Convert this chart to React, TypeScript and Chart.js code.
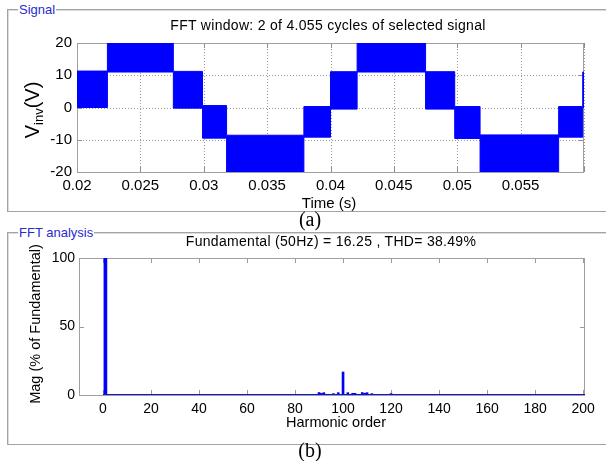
import React, { useEffect, useRef } from 'react';
import { Chart, registerables } from 'chart.js';

Chart.register(...registerables);

const FONT = '"Liberation Sans", Arial, Helvetica, sans-serif';
const SERIF = '"Liberation Serif", "Times New Roman", serif';

// ---- (a) Signal: switching bands (start time of each band, low / high envelope in V)
const bandTimes = [0.02, 0.0224, 0.0276, 0.0299, 0.0318, 0.0379, 0.04, 0.0421, 0.0475, 0.0498, 0.0518, 0.058, 0.0599, 0.06];
const bandLow = [0, 11.0, -0.2, -9.5, -20.2, -9.2, -0.5, 11.0, -0.5, -9.6, -20.2, -9.2, 0];
const bandHigh = [11.3, 20.3, 11.2, 0.6, -8.6, 0.3, 11.1, 20.3, 11.1, 0.3, -8.5, 0.3, 11.0];
const timeTicks = [0.02, 0.025, 0.03, 0.035, 0.04, 0.045, 0.05, 0.055, 0.06];
const timeTickLabels = ['0.02', '0.025', '0.03', '0.035', '0.04', '0.045', '0.05', '0.055', ''];
const voltTicks = [-20, -10, 0, 10, 20];

// ---- (b) FFT analysis
const fundamentalOrder = [1];
const fundamentalMag = [100];
const harmonicOrders = [90, 91, 92, 96, 98, 100, 102, 104, 105, 108, 109, 110, 112, 120];
const harmonicMags = [1.8, 1.2, 1.7, 1.0, 1.7, 16.8, 1.7, 1.2, 1.2, 1.8, 1.3, 1.7, 1.0, 1.0];
const baselineOrders = [0, 200.8];
const baselineMags = [0, 0];
const harmonicTicks = [0, 20, 40, 60, 80, 100, 120, 140, 160, 180, 200];
const magTicks = [0, 50, 100];

const framePlugin = {
  id: 'matlabFrame',
  beforeDatasetsDraw(chart: any, _args: any, opts: any) {
    const { ctx, chartArea: a, scales } = chart;
    const xs = scales.x;
    const ys = scales.y;
    const line = (x1: number, y1: number, x2: number, y2: number) => {
      ctx.beginPath();
      ctx.moveTo(x1, y1);
      ctx.lineTo(x2, y2);
      ctx.stroke();
    };
    ctx.save();
    ctx.lineWidth = 1;
    if (opts.grid) {
      ctx.strokeStyle = '#9a9a9a';
      ctx.setLineDash([1, 2]);
      xs.ticks.forEach((t: any) => {
        const px = Math.round(xs.getPixelForValue(t.value)) + 0.5;
        line(px, a.top, px, a.bottom);
      });
      ys.ticks.forEach((t: any) => {
        const py = Math.round(ys.getPixelForValue(t.value)) + 0.5;
        line(a.left, py, a.right, py);
      });
    }
    ctx.setLineDash([]);
    ctx.strokeStyle = opts.tickColor || '#909090';
    const L = 5;
    xs.ticks.forEach((t: any) => {
      const px = Math.round(xs.getPixelForValue(t.value)) + 0.5;
      line(px, a.bottom, px, a.bottom - L);
      line(px, a.top, px, a.top + L);
    });
    ys.ticks.forEach((t: any) => {
      const py = Math.round(ys.getPixelForValue(t.value)) + 0.5;
      line(a.left, py, a.left + L, py);
      line(a.right, py, a.right - L, py);
    });
    ctx.strokeStyle = opts.boxColor || '#a0a0a0';
    ctx.strokeRect(Math.round(a.left) + 0.5, Math.round(a.top) + 0.5, Math.round(a.right - a.left) - 1, Math.round(a.bottom - a.top));
    ctx.restore();
  },
};

function Txt(props: { x: number; base: number; size: number; family?: string; color?: string; children: any; center?: boolean; spacing?: number }) {
  const { x, base, size, family, color, children, center, spacing } = props;
  return (
    <div
      style={{
        position: 'absolute',
        left: x,
        top: base - 0.8465 * size,
        fontSize: size,
        lineHeight: `${size}px`,
        fontFamily: family || FONT,
        color: color || '#000',
        whiteSpace: 'nowrap',
        letterSpacing: spacing ? `${spacing}px` : undefined,
        transform: center ? 'translateX(-50%)' : undefined,
      }}
    >
      {children}
    </div>
  );
}

function VTxt(props: { cx: number; cy: number; size: number; children: any }) {
  const { cx, cy, size, children } = props;
  return (
    <div
      style={{
        position: 'absolute',
        left: cx,
        top: cy,
        fontSize: size,
        lineHeight: 1,
        fontFamily: FONT,
        color: '#000',
        whiteSpace: 'nowrap',
        transform: 'translate(-50%, -50%) rotate(-90deg)',
      }}
    >
      {children}
    </div>
  );
}

export default function App() {
  const sigRef = useRef<HTMLCanvasElement>(null);
  const fftRef = useRef<HTMLCanvasElement>(null);

  useEffect(() => {
    const lowData = bandTimes.map((t, i) => ({ x: t, y: bandLow[Math.min(i, bandLow.length - 1)] }));
    const highData = bandTimes.map((t, i) => ({ x: t, y: bandHigh[Math.min(i, bandHigh.length - 1)] }));

    const sig = new Chart(sigRef.current as HTMLCanvasElement, {
      type: 'line',
      data: {
        datasets: [
          {
            data: lowData,
            borderColor: '#0000ff',
            borderWidth: 1,
            pointRadius: 0,
            stepped: true,
            fill: false,
          },
          {
            data: highData,
            borderColor: '#0000ff',
            backgroundColor: '#0000ff',
            borderWidth: 1,
            pointRadius: 0,
            stepped: true,
            fill: '-1',
          },
        ],
      },
      options: {
        responsive: false,
        animation: false,
        devicePixelRatio: 1,
        layout: { padding: { left: 0, right: 22, top: 43, bottom: 0 } },
        plugins: {
          legend: { display: false },
          tooltip: { enabled: false },
          matlabFrame: { grid: true, tickColor: '#8c8c8c', boxColor: '#a0a0a0' },
        } as any,
        scales: {
          x: {
            type: 'linear',
            min: 0.02,
            max: 0.06,
            grid: { display: false, drawTicks: false },
            border: { display: false },
            afterBuildTicks: (s: any) => {
              s.ticks = timeTicks.map((v) => ({ value: v }));
            },
            afterFit: (s: any) => {
              s.height = 43;
            },
            ticks: {
              autoSkip: false,
              maxRotation: 0,
              padding: 5,
              color: '#000',
              font: { family: FONT, size: 15 },
              callback: (_v: any, i: number) => timeTickLabels[i],
            },
          },
          y: {
            type: 'linear',
            min: -20,
            max: 20,
            grid: { display: false, drawTicks: false },
            border: { display: false },
            afterBuildTicks: (s: any) => {
              s.ticks = voltTicks.map((v) => ({ value: v }));
            },
            afterFit: (s: any) => {
              s.width = 77;
            },
            ticks: {
              autoSkip: false,
              padding: 5,
              color: '#000',
              font: { family: FONT, size: 15 },
              callback: (v: any) => String(v),
            },
          },
        },
      },
      plugins: [framePlugin as any],
    } as any);

    const fft = new Chart(fftRef.current as HTMLCanvasElement, {
      type: 'bar',
      data: {
        datasets: [
          {
            type: 'line',
            data: baselineOrders.map((h, i) => ({ x: h, y: baselineMags[i] })),
            borderColor: '#1414c8',
            borderWidth: 2,
            pointRadius: 0,
            fill: false,
          },
          {
            type: 'bar',
            data: fundamentalOrder.map((h, i) => ({ x: h, y: fundamentalMag[i] })),
            backgroundColor: '#0000ff',
            barThickness: 3,
            grouped: false,
          },
          {
            type: 'bar',
            data: harmonicOrders.map((h, i) => ({ x: h, y: harmonicMags[i] })),
            backgroundColor: '#0000ff',
            barThickness: 2,
            grouped: false,
          },
        ],
      },
      options: {
        responsive: false,
        animation: false,
        devicePixelRatio: 1,
        layout: { padding: { left: 0, right: 21, top: 26, bottom: 0 } },
        plugins: {
          legend: { display: false },
          tooltip: { enabled: false },
          matlabFrame: { grid: false, tickColor: '#9a9a9a', boxColor: '#a0a0a0' },
        } as any,
        scales: {
          x: {
            type: 'linear',
            min: -10,
            max: 200.8,
            offset: false,
            grid: { display: false, offset: false, drawTicks: false },
            border: { display: false },
            afterBuildTicks: (s: any) => {
              s.ticks = harmonicTicks.map((v) => ({ value: v }));
            },
            afterFit: (s: any) => {
              s.height = 50;
            },
            ticks: {
              autoSkip: false,
              maxRotation: 0,
              padding: 6,
              color: '#000',
              font: { family: FONT, size: 14 },
              callback: (v: any) => String(v),
            },
          },
          y: {
            type: 'linear',
            min: 0,
            max: 100,
            grid: { display: false, drawTicks: false },
            border: { display: false },
            afterBuildTicks: (s: any) => {
              s.ticks = magTicks.map((v) => ({ value: v }));
            },
            afterFit: (s: any) => {
              s.width = 79;
            },
            ticks: {
              autoSkip: false,
              padding: 4,
              color: '#000',
              font: { family: FONT, size: 14 },
              callback: (v: any) => String(v),
            },
          },
        },
      },
      plugins: [framePlugin as any],
    } as any);

    return () => {
      sig.destroy();
      fft.destroy();
    };
  }, []);

  const frame = (top: number, height: number) => ({
    position: 'absolute' as const,
    left: 7,
    top,
    width: 620,
    height,
    border: '1px solid #a3a3a3',
    boxShadow: 'inset 1px 1px 0 #dcdcdc',
    boxSizing: 'border-box' as const,
  });

  return (
    <div
      style={{
        position: 'absolute',
        left: 0,
        top: 0,
        width: 606,
        height: 461,
        background: '#fff',
        overflow: 'hidden',
        fontFamily: FONT,
      }}
    >
      <div style={frame(9, 203)} />
      <div style={frame(232, 213)} />

      <canvas ref={sigRef} width={606} height={215} style={{ position: 'absolute', left: 0, top: 0, width: 606, height: 215 }} />
      <canvas ref={fftRef} width={606} height={213} style={{ position: 'absolute', left: 0, top: 232, width: 606, height: 213 }} />

      <div
        style={{
          position: 'absolute',
          left: 18,
          top: 2,
          fontSize: 13,
          lineHeight: '15px',
          color: '#2a2ad2',
          background: '#fff',
          padding: '0 1px',
          fontFamily: FONT,
        }}
      >
        Signal
      </div>
      <div
        style={{
          position: 'absolute',
          left: 18,
          top: 225,
          fontSize: 13,
          lineHeight: '15px',
          color: '#2a2ad2',
          background: '#fff',
          padding: '0 1px',
          fontFamily: FONT,
        }}
      >
        FFT analysis
      </div>

      <Txt x={328} base={29.5} size={14} spacing={0.3} center>
        FFT window: 2 of 4.055 cycles of selected signal
      </Txt>
      <Txt x={329} base={207.5} size={15} center>
        Time (s)
      </Txt>
      <VTxt cx={32} cy={110} size={20}>
        V<sub style={{ fontSize: 13, verticalAlign: '-4px', lineHeight: 0 }}>inv</sub>(V)
      </VTxt>
      <Txt x={310} base={225.6} size={20} family={SERIF} center>
        (a)
      </Txt>

      <Txt x={331} base={245.5} size={14} spacing={0.3} center>
        Fundamental (50Hz) = 16.25 , THD= 38.49%
      </Txt>
      <Txt x={336} base={427.5} size={14.5} center>
        Harmonic order
      </Txt>
      <VTxt cx={35} cy={324} size={14.5}>
        Mag (% of Fundamental)
      </VTxt>
      <Txt x={310} base={456.5} size={20} family={SERIF} center>
        (b)
      </Txt>
    </div>
  );
}
